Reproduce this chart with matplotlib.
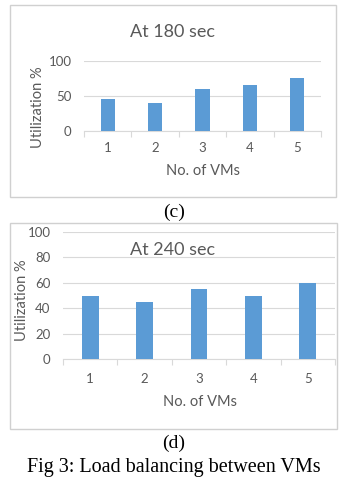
import matplotlib
matplotlib.use("Agg")
import matplotlib.pyplot as plt
from matplotlib.patches import Rectangle
import numpy as np

vms = ["1", "2", "3", "4", "5"]
util_180 = [45, 40, 60, 65, 75]
util_240 = [50, 45, 55, 50, 60]
yticks_180 = [0, 50, 100]
yticks_240 = [0, 20, 40, 60, 80, 100]

W, H = 351, 486
fig = plt.figure(figsize=(W / 100, H / 100), dpi=100)
fig.patch.set_facecolor("white")

FONT = ["Lato", "DejaVu Sans"]
BAR = "#5B9BD5"
GRID = "#D9D9D9"
TXT = "#595959"
TICKFS = 9.5
LABFS = 10.5
TITLEFS = 13


def fx(x):
    return x / W


def fy(y):
    return 1 - y / H


def add_ax(l, r, t, b):
    return fig.add_axes([fx(l), fy(b), (r - l) / W, (b - t) / H])


def draw_box(l, r, t, b):
    fig.patches.append(Rectangle((fx(l), fy(b)), (r - l) / W, (b - t) / H,
                                 transform=fig.transFigure, fill=False,
                                 edgecolor="#D0D0D0", linewidth=1.0))


def panel(ax, vals, yticks, width, xpad, ypad):
    x = np.arange(len(vms))
    ax.bar(x, vals, width=width, color=BAR, zorder=3)
    ax.set_xlim(-0.5, len(vms) - 0.5)
    ax.set_ylim(0, 100)
    ax.set_yticks(yticks)
    ax.set_xticks(x)
    ax.set_xticklabels(vms)
    ax.set_xticks(np.arange(-0.5, len(vms)), minor=True)
    ax.tick_params(axis="x", which="major", length=0, pad=xpad, labelsize=TICKFS, labelcolor=TXT)
    ax.tick_params(axis="x", which="minor", length=4, color=GRID, width=0.8)
    ax.tick_params(axis="y", length=0, pad=ypad, labelsize=TICKFS, labelcolor=TXT)
    for lab in ax.get_xticklabels() + ax.get_yticklabels():
        lab.set_family(FONT)
    ax.grid(axis="y", color=GRID, linewidth=0.8, zorder=0)
    for s in ["top", "right", "left"]:
        ax.spines[s].set_visible(False)
    ax.spines["bottom"].set_color(GRID)
    ax.spines["bottom"].set_linewidth(0.8)
    ax.set_facecolor("none")


# Top panel (c)
draw_box(10, 336, 5, 197)
ax1 = add_ax(84, 321, 61, 131)
panel(ax1, util_180, yticks_180, 0.3, 8, 9)
fig.text(fx(173), fy(32), "At 180 sec", ha="center", va="center", fontsize=TITLEFS, color=TXT, family=FONT)
fig.text(fx(38), fy(107), "Utilization %", ha="center", va="center", rotation=90, fontsize=LABFS, color=TXT, family=FONT)
fig.text(fx(203), fy(171), "No. of VMs", ha="center", va="center", fontsize=LABFS, color=TXT, family=FONT)

fig.text(fx(174), fy(212), "(c)", ha="center", va="center", fontsize=14, color="black", family="Liberation Serif")

# Bottom panel (d)
draw_box(10, 337, 223, 429)
ax2 = add_ax(63, 335, 232, 359)
panel(ax2, util_240, yticks_240, 0.31, 10, 9)
fig.text(fx(173), fy(250), "At 240 sec", ha="center", va="center", fontsize=TITLEFS, color=TXT, family=FONT)
fig.text(fx(22), fy(300), "Utilization %", ha="center", va="center", rotation=90, fontsize=LABFS, color=TXT, family=FONT)
fig.text(fx(200), fy(402), "No. of VMs", ha="center", va="center", fontsize=LABFS, color=TXT, family=FONT)

fig.text(fx(174), fy(443), "(d)", ha="center", va="center", fontsize=14, color="black", family="Liberation Serif")
fig.text(fx(174), fy(467), "Fig 3: Load balancing between VMs", ha="center", va="center", fontsize=14.5, color="black", family="Liberation Serif")

fig.savefig("out.png", dpi=100, facecolor="white")
